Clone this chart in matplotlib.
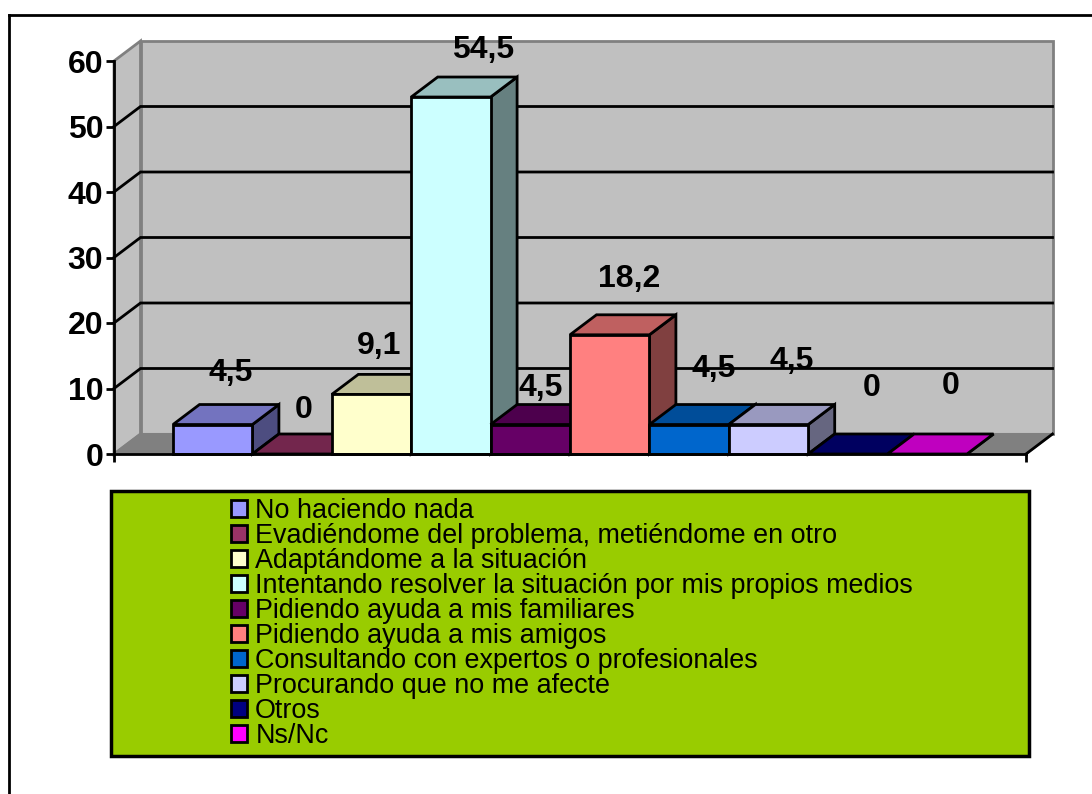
import matplotlib.pyplot as plt
from matplotlib.patches import Polygon, Patch, Rectangle
from matplotlib.lines import Line2D

plt.rcParams['font.family'] = ['Liberation Sans', 'DejaVu Sans']

categories = ["No haciendo nada",
              "Evadiéndome del problema, metiéndome en otro",
              "Adaptándome a la situación",
              "Intentando resolver la situación por mis propios medios",
              "Pidiendo ayuda a mis familiares",
              "Pidiendo ayuda a mis amigos",
              "Consultando con expertos o profesionales",
              "Procurando que no me afecte",
              "Otros",
              "Ns/Nc"]
values = [4.5, 0, 9.1, 54.5, 4.5, 18.2, 4.5, 4.5, 0, 0]
value_labels = ["4,5", "0", "9,1", "54,5", "4,5", "18,2", "4,5", "4,5", "0", "0"]
colors = ["#9999FF", "#993366", "#FFFFCC", "#CCFFFF", "#660066",
          "#FF8080", "#0066CC", "#CCCCFF", "#000080", "#FF00FF"]
y_ticks = [0, 10, 20, 30, 40, 50, 60]

# label offsets from the front top of each bar, in pixels
label_dx = [18, 12, 8, 32, 10, 19, 25, 23, 24, 23]
label_dy = [52, 44, 48, 47, 37, 56, 56, 64, 66, 68]

W, H = 1092, 794


def shade(col, f):
    r, g, b = plt.matplotlib.colors.to_rgb(col)
    return (r * f, g * f, b * f)


fig = plt.figure(figsize=(W / 100, H / 100), dpi=100)

# outer border, only top and left are inside the picture
fig.add_artist(Line2D([9 / W, 9 / W], [0, 1 - 14.5 / H], color='black', lw=2))
fig.add_artist(Line2D([9 / W, 1], [1 - 14.5 / H, 1 - 14.5 / H], color='black', lw=2))

# axes is the front plane of the 3d box
ax = fig.add_axes([114 / W, 1 - 454 / H, (1026 - 114) / W, (454 - 61) / H])
n = len(values)
pitch = 79.4
ax.set_xlim(-(173 - 114) / pitch - 0.5, n - 0.5 + (1026 - 967) / pitch)
ax.set_ylim(0, 60)
ax.patch.set_visible(False)
for s in ['top', 'right']:
    ax.spines[s].set_visible(False)
for s in ['left', 'bottom']:
    ax.spines[s].set_linewidth(2)
    ax.spines[s].set_zorder(40)

x0, x1 = ax.get_xlim()
dx = 26.5 / pitch        # depth in category units
dy = 20 / (393 / 60)     # depth in value units
wall_line = '#808080'
lw = 2

# walls and floor
ax.add_patch(Polygon([(x0 + dx, dy), (x1 + dx, dy), (x1 + dx, 60 + dy), (x0 + dx, 60 + dy)],
                     facecolor='#C0C0C0', edgecolor=wall_line, lw=2, clip_on=False, zorder=1))
ax.add_patch(Polygon([(x0, 0), (x0 + dx, dy), (x0 + dx, 60 + dy), (x0, 60)],
                     facecolor='#C0C0C0', edgecolor=wall_line, lw=2, clip_on=False, zorder=1))
ax.add_patch(Polygon([(x0, 0), (x1, 0), (x1 + dx, dy), (x0 + dx, dy)],
                     facecolor='#808080', edgecolor=wall_line, lw=1.5, clip_on=False, zorder=1))
ax.plot([x1, x1 + dx], [0, dy], color='black', lw=lw, clip_on=False, zorder=2)

# gridlines on back and side wall
for t in y_ticks[1:-1]:
    ax.plot([x0, x0 + dx, x1 + dx], [t, t + dy, t + dy], color='black', lw=lw,
            clip_on=False, zorder=2, solid_joinstyle='miter')

# bars, left to right so each one covers the side of the one before
for i, v in enumerate(values):
    l, r = i - 0.5, i + 0.5
    z = 5 + i
    ax.add_patch(Polygon([(r, 0), (r + dx, dy), (r + dx, v + dy), (r, v)],
                         facecolor=shade(colors[i], 0.5), edgecolor='black', lw=lw,
                         clip_on=False, zorder=z, joinstyle='miter'))
    ax.add_patch(Polygon([(l, v), (r, v), (r + dx, v + dy), (l + dx, v + dy)],
                         facecolor=shade(colors[i], 0.75), edgecolor='black', lw=lw,
                         clip_on=False, zorder=z, joinstyle='miter'))
    if v > 0:
        ax.add_patch(Rectangle((l, 0), 1, v, facecolor=colors[i], edgecolor='black', lw=lw,
                               clip_on=False, zorder=z, joinstyle='miter'))
    ax.annotate(value_labels[i], (i, v), xytext=(label_dx[i], label_dy[i]),
                textcoords='offset pixels', ha='center', va='center',
                fontsize=23, fontweight='bold', color='black', zorder=30,
                annotation_clip=False)

ax.set_yticks(y_ticks)
ax.set_yticklabels([str(t) for t in y_ticks], fontsize=23, fontweight='bold')
ax.set_xticks([x0, x1])
ax.set_xticklabels([])
ax.tick_params(axis='both', direction='out', length=5.8, width=2, color='black', pad=2)
for t in ax.yaxis.get_major_ticks() + ax.xaxis.get_major_ticks():
    t.tick1line.set_zorder(40)

# legend box
fig.add_artist(Rectangle((110.5 / W, 1 - 756 / H), (1029 - 110.5) / W, (756 - 490.5) / H,
                         transform=fig.transFigure, facecolor='#99CC00', edgecolor='black', lw=2.5))
handles = [Patch(facecolor=c, edgecolor='black', lw=2) for c in colors]
leg = fig.legend(handles, categories, loc='upper left',
                 bbox_to_anchor=(231 / W, 1 - 498 / H), frameon=False, fontsize=19.4,
                 borderpad=0, borderaxespad=0, handlelength=0.6, handleheight=0.6,
                 handletextpad=0.3, labelspacing=-0.037)
leg.set_zorder(20)

fig.savefig("out.png", dpi=100)
